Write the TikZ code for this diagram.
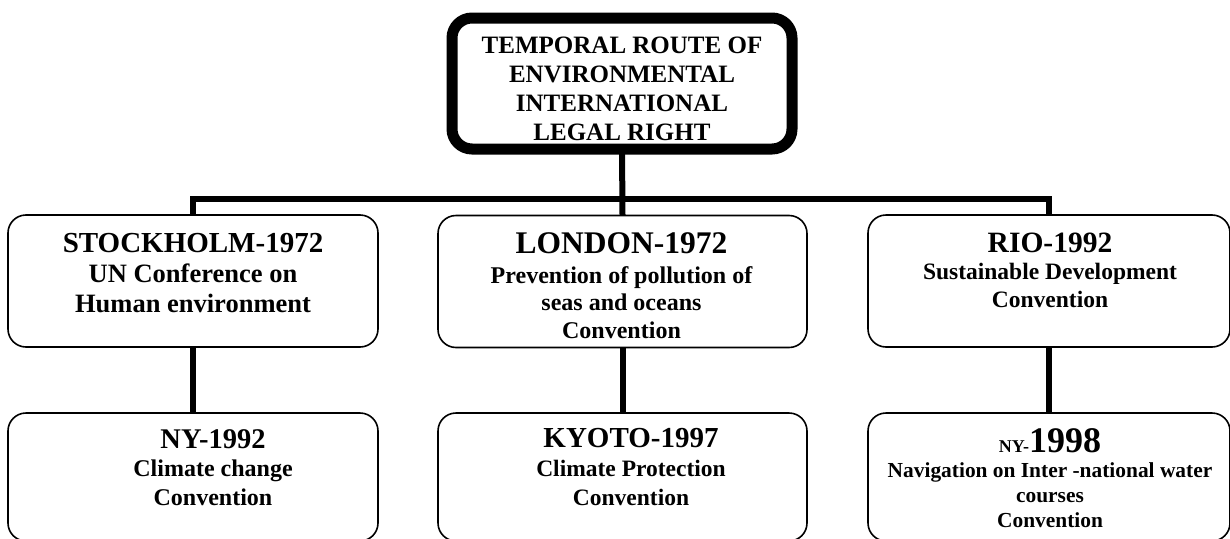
\documentclass[tikz,border=0pt]{standalone}
\usepackage{fontspec}
\setmainfont{Liberation Serif}
\usetikzlibrary{positioning}

\newcommand{\fsz}[2]{\fontsize{#1}{#2}\selectfont}

\begin{document}
\begin{tikzpicture}[
  x=1pt, y=-1pt,
  box/.style={draw, rounded corners=18pt, line width=1.6pt, inner sep=0pt, outer sep=0pt},
  evbox/.style={box, minimum height=132pt},
  subbox/.style={box, minimum height=128pt},
  txt/.style={align=center, inner sep=0pt, anchor=base, font=\bfseries},
  conn/.style={line width=6pt}
]
  \useasboundingbox (0,0) rectangle (1230,538);

  \node[box, line width=11pt, rounded corners=20pt, minimum width=340pt, minimum height=131pt] (root) at (622,83.5) {};
  \node[txt, font=\bfseries\fsz{25}{28.7}] (rootlbl) at (622,140)
    {TEMPORAL ROUTE OF\\ENVIRONMENTAL\\INTERNATIONAL\\LEGAL RIGHT};

  \node[evbox, minimum width=370pt] (stock) at (193,281) {};
  \node[evbox, minimum width=369pt] (london) at (622.5,281.5) {};
  \node[evbox, minimum width=362pt] (rio) at (1049,281) {};

  \node[subbox, minimum width=370pt] (ny92) at (193,477) {};
  \node[subbox, minimum width=369pt] (kyoto) at (622.5,477) {};
  \node[subbox, minimum width=362pt] (ny98) at (1049,477) {};

  \node[txt, font=\bfseries\fsz{26.5}{30}] (stocklbl) at (193,312)
    {{\fsz{29}{30}STOCKHOLM-1972}\\UN Conference on\\Human environment};
  \node[txt, font=\bfseries\fsz{24}{27.5}] (londonlbl) at (621.5,338)
    {{\fsz{31.5}{30}LONDON-1972}\\[2.5pt]Prevention of pollution of\\seas and oceans\\Convention};
  \node[txt, font=\bfseries\fsz{23.5}{27.5}] (riolbl) at (1050,307)
    {{\fsz{29.5}{30}RIO-1992}\\Sustainable Development\\Convention};

  \node[txt, font=\bfseries\fsz{24}{28.5}] (ny92lbl) at (213,505)
    {{\fsz{28.5}{30}NY-1992}\\Climate change\\Convention};
  \node[txt, font=\bfseries\fsz{23.5}{29}] (kyotolbl) at (631,505)
    {{\fsz{29}{30}KYOTO-1997}\\Climate Protection\\Convention};
  \node[txt, font=\bfseries\fsz{21.4}{25}] (ny98lbl) at (1050,527)
    {{\fsz{18}{25}NY-}{\fsz{36}{25}1998}\\Navigation on Inter -national water\\courses\\Convention};

  \draw[conn] (root.south) -- (london.north);
  \draw[conn] (stock.north) -- ++(0,-16) -| (rio.north);
  \draw[conn] (stock.south) -- (ny92.north);
  \draw[conn] (london.south) -- (kyoto.north);
  \draw[conn] (rio.south) -- (ny98.north);
\end{tikzpicture}
\end{document}
